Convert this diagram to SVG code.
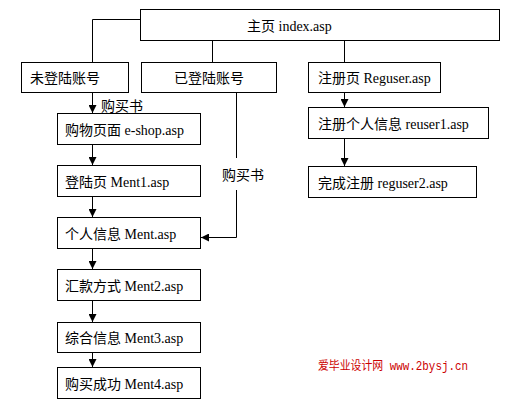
<svg xmlns="http://www.w3.org/2000/svg" width="511" height="403" viewBox="0 0 511 403">
<style>
.box{fill:#fff;stroke:#000;stroke-width:1}
.t{font-family:"Liberation Serif","Noto Sans CJK SC",serif;font-size:14px;fill:#000}
.c{fill:none;stroke:#000;stroke-width:1}
.wm{font-family:"Liberation Mono","Noto Sans CJK SC",monospace;font-size:12px;fill:#cc0000}
</style>
<defs>
<marker id="ah" markerUnits="userSpaceOnUse" markerWidth="9" markerHeight="8" refX="8" refY="4" orient="auto">
<path d="M0,0 L8,4 L0,8 Z" fill="#000"/>
</marker>
</defs>
<rect width="511" height="403" fill="#fff"/>
<g id="connectors">
<path class="c" d="M140.5,19.5 H92.5 V62"/>
<path class="c" d="M212.5,40 V62"/>
<path class="c" d="M344.5,40 V62"/>
<path class="c" d="M92.5,92 V113" marker-end="url(#ah)"/>
<path class="c" d="M92.5,144 V165" marker-end="url(#ah)"/>
<path class="c" d="M92.5,196 V217" marker-end="url(#ah)"/>
<path class="c" d="M92.5,248 V269" marker-end="url(#ah)"/>
<path class="c" d="M92.5,300 V322" marker-end="url(#ah)"/>
<path class="c" d="M92.5,352 V367" marker-end="url(#ah)"/>
<path class="c" d="M236.5,92 V158"/>
<path class="c" d="M236.5,190 V237.5 H201" marker-end="url(#ah)"/>
<path class="c" d="M344.5,92 V107" marker-end="url(#ah)"/>
<path class="c" d="M344.5,138 V166" marker-end="url(#ah)"/>
<text class="t" x="101" y="111">购买书</text>
<text class="t" x="222" y="180">购买书</text>
</g>
<g id="home"><rect class="box" x="140.5" y="9.5" width="359" height="31"/><text class="t" x="247" y="31">主页 index.asp</text></g>
<g id="notlogged"><rect class="box" x="21.5" y="62.5" width="107" height="30"/><text class="t" x="30" y="83">未登陆账号</text></g>
<g id="logged"><rect class="box" x="141.5" y="62.5" width="135" height="30"/><text class="t" x="209" y="83" text-anchor="middle">已登陆账号</text></g>
<g id="reguser"><rect class="box" x="308.5" y="62.5" width="132" height="30"/><text class="t" x="318" y="83">注册页 Reguser.asp</text></g>
<g id="eshop"><rect class="box" x="57.5" y="113.5" width="143" height="31"/><text class="t" x="65" y="135">购物页面 e-shop.asp</text></g>
<g id="ment1"><rect class="box" x="57.5" y="165.5" width="143" height="31"/><text class="t" x="65" y="187">登陆页 Ment1.asp</text></g>
<g id="ment"><rect class="box" x="57.5" y="217.5" width="143" height="31"/><text class="t" x="65" y="239">个人信息 Ment.asp</text></g>
<g id="ment2"><rect class="box" x="57.5" y="269.5" width="143" height="31"/><text class="t" x="65" y="291">汇款方式 Ment2.asp</text></g>
<g id="ment3"><rect class="box" x="57.5" y="322.5" width="143" height="30"/><text class="t" x="65" y="343">综合信息 Ment3.asp</text></g>
<g id="ment4"><rect class="box" x="57.5" y="367.5" width="143" height="31"/><text class="t" x="65" y="389">购买成功 Ment4.asp</text></g>
<g id="reuser1"><rect class="box" x="308.5" y="107.5" width="180" height="31"/><text class="t" x="318" y="129">注册个人信息 reuser1.asp</text></g>
<g id="reguser2"><rect class="box" x="308.5" y="166.5" width="168" height="31"/><text class="t" x="318" y="188">完成注册 reguser2.asp</text></g>
<text class="wm" x="318" y="370" textLength="150" lengthAdjust="spacingAndGlyphs">爱毕业设计网 www.2bysj.cn</text>
</svg>
